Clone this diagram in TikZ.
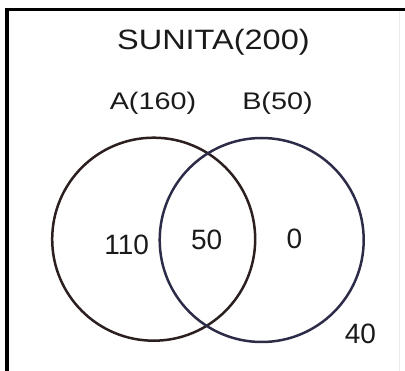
\documentclass[tikz,border=0pt]{standalone}
\usepackage{fontspec}
\setmainfont{Liberation Sans}
\definecolor{circA}{HTML}{2B1F1F}
\definecolor{circB}{HTML}{2C2C48}
\definecolor{txt}{HTML}{1A1A1A}
\begin{document}
\begin{tikzpicture}[x=1pt,y=-1pt,
  lbl/.style={inner sep=0pt,anchor=base,text=txt,font=\fontsize{24}{26}\selectfont,xscale=1.2},
  ttl/.style={inner sep=0pt,anchor=base,text=txt,font=\fontsize{28}{30}\selectfont,xscale=1.16},
  num/.style={inner sep=0pt,anchor=base,text=txt,font=\fontsize{28}{30}\selectfont},
  frm/.style={line width=3.5pt,black},
  ring/.style={line width=2.5pt}]
\useasboundingbox (0,0) rectangle (405,371);
\coordinate (fb) at (7,371);
\coordinate (ftl) at (7,9.5);
\coordinate (ftr) at (405,9.5);
\draw[frm] (fb) -- (ftl) -- (ftr);
\coordinate (rt) at (399,11);
\coordinate (rb) at (399,371);
\draw[black!8,line width=1pt] (rt) -- (rb);
\node[circle,draw=circA,ring,minimum size=203pt,inner sep=0pt] (A) at (153.7,239.2) {};
\node[circle,draw=circB,ring,minimum size=204pt,inner sep=0pt] (B) at (261.7,240) {};
\node[ttl] (title) at (213.4,49.3) {SUNITA(200)};
\node[lbl] (la) at (153,110) {A(160)};
\node[lbl] (lb) at (277.5,110) {B(50)};
\node[num] (n110) at (126.7,254.3) {110};
\node[num] (n50) at (206.7,249.3) {50};
\node[num] (n0) at (294.5,248.3) {0};
\node[num] (n40) at (360.5,344) {40};
\end{tikzpicture}
\end{document}
